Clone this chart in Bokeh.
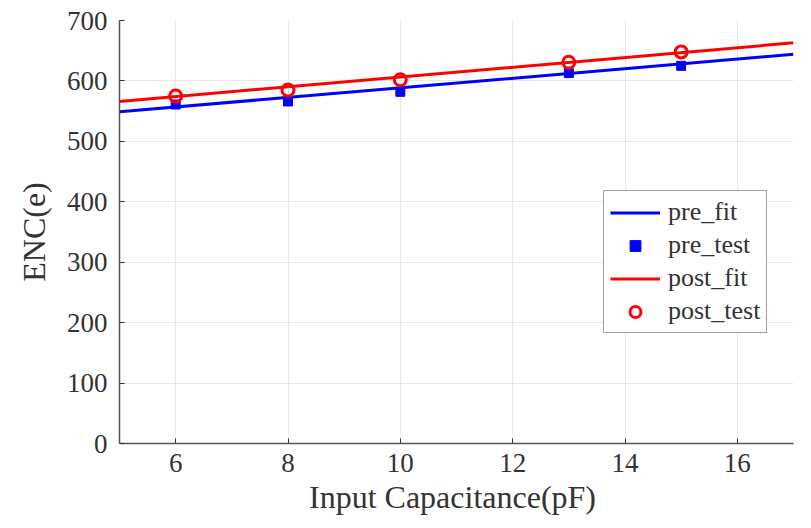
from bokeh.plotting import figure
from bokeh.embed import file_html
from bokeh.resources import INLINE
from bokeh.models import Legend, LegendItem, Range1d, FixedTicker

# Data
cap_test = [6, 8, 10, 13, 15]
pre_test = [561, 566, 582, 613, 625]
post_test = [575, 585, 602, 631, 648]
fit_x = [5, 17]
pre_fit = [549, 644]
post_fit = [566, 663]

x_ticks = [6, 8, 10, 12, 14, 16]
y_ticks = [0, 100, 200, 300, 400, 500, 600, 700]

FONT = "Liberation Serif"
TXT = "#333333"

p = figure(width=811, height=528, output_backend="svg", toolbar_location=None,
           x_range=Range1d(5, 17), y_range=Range1d(0, 700),
           min_border_left=119, min_border_right=18, min_border_top=20, min_border_bottom=85)
p.outline_line_color = None

l1 = p.line(fit_x, pre_fit, line_color="#0000ff", line_width=3)
s1 = p.scatter(cap_test, pre_test, marker="square", size=9, fill_color="#0000ff", line_color="#0000ff")
l2 = p.line(fit_x, post_fit, line_color="#ff0000", line_width=3)
s2 = p.scatter(cap_test, post_test, marker="circle", size=12, fill_color=None, line_color="#ff0000", line_width=3)

for ax in (p.xaxis[0], p.yaxis[0]):
    ax.axis_line_color = "#555555"
    ax.axis_line_width = 1.5
    ax.major_tick_in = 5
    ax.major_tick_out = 0
    ax.minor_tick_line_color = None
    ax.major_tick_line_color = "#333333"
    ax.major_label_text_font = FONT
    ax.major_label_text_font_size = "27px"
    ax.major_label_text_color = TXT
    ax.axis_label_text_font = FONT
    ax.axis_label_text_font_size = "32px"
    ax.axis_label_text_font_style = "normal"
    ax.axis_label_text_color = TXT

p.xaxis.ticker = FixedTicker(ticks=x_ticks)
p.yaxis.ticker = FixedTicker(ticks=y_ticks)
p.xaxis.axis_label = "Input  Capacitance(pF)"
p.yaxis.axis_label = "ENC(e)"
p.xaxis.major_label_standoff = 10
p.xaxis.axis_label_standoff = 4
p.yaxis.major_label_standoff = 12
p.yaxis.axis_label_standoff = 12

p.xgrid.grid_line_color = "#e8e8e8"
p.ygrid.grid_line_color = "#e8e8e8"

legend = Legend(items=[
    LegendItem(label="pre_fit", renderers=[l1]),
    LegendItem(label="pre_test", renderers=[s1]),
    LegendItem(label="post_fit", renderers=[l2]),
    LegendItem(label="post_test", renderers=[s2]),
], location=(484, 110))
legend.label_text_font = FONT
legend.label_text_font_size = "26px"
legend.label_text_color = TXT
legend.glyph_width = 50
legend.glyph_height = 27
legend.label_height = 27
legend.spacing = 3
legend.padding = 6
legend.margin = 0
legend.label_standoff = 8
legend.border_line_color = "#444444"
legend.border_line_width = 1.5
legend.background_fill_color = "white"
legend.background_fill_alpha = 1
p.add_layout(legend, "center")

open("out.html", "w").write(file_html(p, INLINE))
